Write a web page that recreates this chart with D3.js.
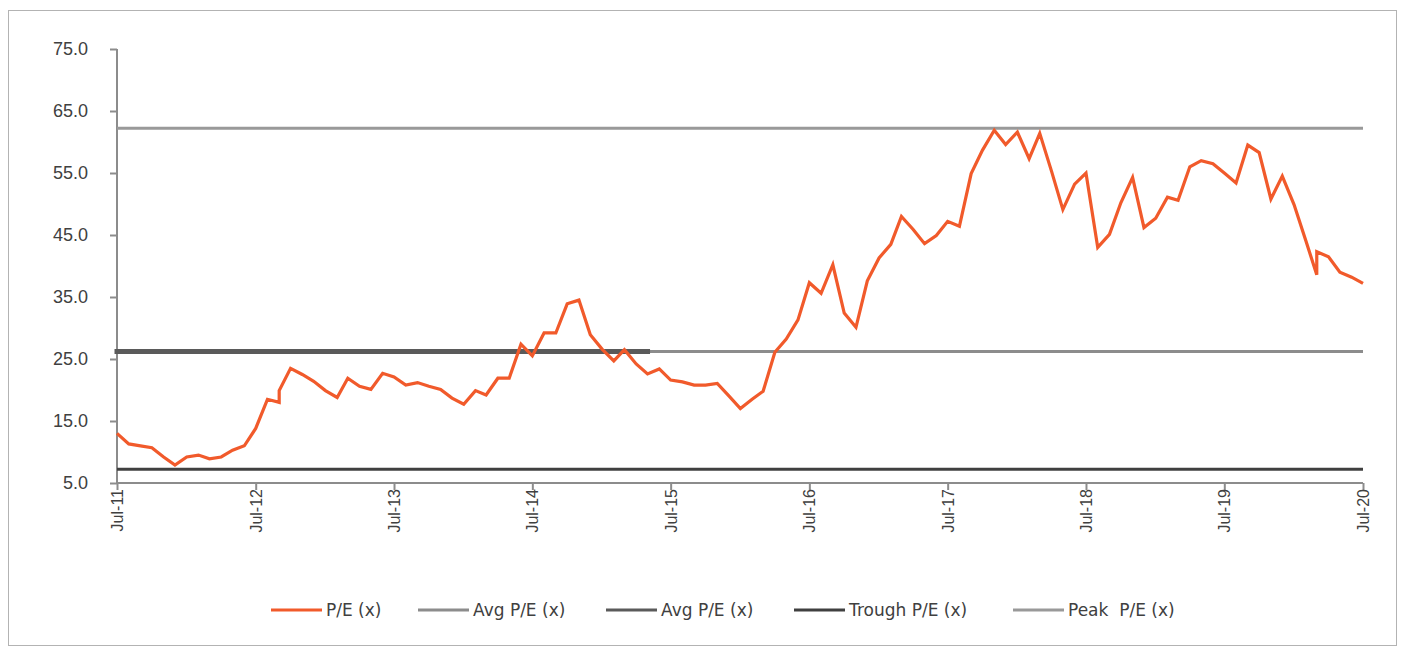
<!DOCTYPE html>
<html>
<head>
<meta charset="utf-8">
<script src="https://cdn.jsdelivr.net/npm/d3@7"></script>
<style>
  html, body { margin: 0; padding: 0; background: #fff; }
  svg { display: block; font-family: "DejaVu Sans", Verdana, sans-serif; }
</style>
</head>
<body>
<svg id="chart" width="1405" height="655"></svg>
<script>
// ---------- DATA ----------
const peMonths = [
  "2011-07","2011-08","2011-09","2011-10","2011-11","2011-12",
  "2012-01","2012-02","2012-03","2012-04","2012-05","2012-06",
  "2012-07","2012-08","2012-09","2012-09","2012-10","2012-11","2012-12",
  "2013-01","2013-02","2013-03","2013-04","2013-05","2013-06",
  "2013-07","2013-08","2013-09","2013-10","2013-11","2013-12",
  "2014-01","2014-02","2014-03","2014-04","2014-05","2014-06",
  "2014-07","2014-08","2014-09","2014-10","2014-11","2014-12",
  "2015-01","2015-02","2015-03","2015-04","2015-05","2015-06",
  "2015-07","2015-08","2015-09","2015-10","2015-11","2015-12",
  "2016-01","2016-02","2016-03","2016-04","2016-05","2016-06",
  "2016-07","2016-08","2016-09","2016-10","2016-11","2016-12",
  "2017-01","2017-02","2017-03","2017-04","2017-05","2017-06",
  "2017-07","2017-08","2017-09","2017-10","2017-11","2017-12",
  "2018-01","2018-02","2018-03","2018-04","2018-05","2018-06",
  "2018-07","2018-08","2018-09","2018-10","2018-11","2018-12",
  "2019-01","2019-02","2019-03","2019-04","2019-05","2019-06",
  "2019-07","2019-08","2019-09","2019-10","2019-11","2019-12",
  "2020-01","2020-02","2020-03","2020-03","2020-04","2020-05","2020-06",
  "2020-07"
];
const peValues = [
  13.0, 11.3, 11.0, 10.7, 9.2, 7.9,
  9.2, 9.5, 8.9, 9.2, 10.3, 11.0,
  13.8, 18.5, 18.0, 19.9, 23.5, 22.5, 21.4,
  19.9, 18.8, 21.9, 20.6, 20.1, 22.7,
  22.1, 20.8, 21.2, 20.6, 20.1, 18.7,
  17.7, 19.9, 19.2, 21.9, 21.9, 27.4,
  25.5, 29.2, 29.2, 33.9, 34.5, 28.9,
  26.6, 24.7, 26.5, 24.2, 22.6, 23.4,
  21.6, 21.3, 20.8, 20.8, 21.05, 19.1,
  17.0, 18.5, 19.8, 26.1, 28.2, 31.3,
  37.3, 35.6, 40.2, 32.4, 30.1, 37.6,
  41.3, 43.5, 48.0, 45.9, 43.6, 44.9,
  47.2, 46.4, 54.9, 58.7, 61.9, 59.6,
  61.6, 57.3, 61.4, 55.3, 49.1, 53.2,
  55.0, 43.0, 45.1, 50.2, 54.3, 46.2,
  47.7, 51.1, 50.6, 56.0, 57.0, 56.5,
  55.0, 53.4, 59.5, 58.3, 50.8, 54.5,
  49.9, 44.1, 38.6, 42.3, 41.5, 39.0, 38.2,
  37.2
];
const avgPE = 26.2;              // Avg P/E (x) – full period
const avgPEShortEnd = "2015-05"; // Avg P/E (x) – dark line ends here
const troughPE = 7.2;
const peakPE = 62.2;
const yTicks = [5, 15, 25, 35, 45, 55, 65, 75];
const xTickMonths = ["2011-07","2012-07","2013-07","2014-07","2015-07","2016-07","2017-07","2018-07","2019-07","2020-07"];
const legendLabels = ["P/E (x)", "Avg P/E (x)", "Avg P/E (x)", "Trough P/E (x)", "Peak  P/E (x)"];

// ---------- SETUP ----------
const parse = d3.timeParse("%Y-%m");
const fmtX = d3.timeFormat("%b-%y");
const svg = d3.select("#chart");

const colors = {
  pe: "#f15a2b",
  avg: "#8c8c8c",
  avgDark: "#5a5a5a",
  trough: "#404040",
  peak: "#999999"
};

// outer border
svg.append("rect")
  .attr("x", 8.5).attr("y", 10.5)
  .attr("width", 1388).attr("height", 635)
  .attr("fill", "none").attr("stroke", "#b3b3b3").attr("stroke-width", 1);

const x = d3.scaleTime()
  .domain([parse("2011-07"), parse("2020-07")])
  .range([117, 1363]);
const y = d3.scaleLinear()
  .domain([5, 75])
  .range([483, 49]);

const peData = peMonths.map((m, i) => ({ date: parse(m), value: peValues[i] }));
const x0 = x.domain()[0], x1 = x.domain()[1];

// ---------- AXES ----------
const yAxis = d3.axisLeft(y).tickValues(yTicks).tickFormat(d3.format(".1f")).tickSize(7).tickPadding(22);
const gy = svg.append("g").attr("transform", "translate(117,0)").call(yAxis);
gy.select(".domain").attr("stroke", "#8c8c8c").attr("stroke-width", 2)
  .attr("d", `M0,${y(75)}V${y(5)}`);
gy.selectAll(".tick line").attr("stroke", "#8c8c8c").attr("stroke-width", 2);
gy.selectAll(".tick text").attr("fill", "#404040").style("font-size", "18px");

const xAxis = d3.axisBottom(x).tickValues(xTickMonths.map(parse)).tickFormat(fmtX).tickSize(7);
const gx = svg.append("g").attr("transform", `translate(0,${y(5)})`).call(xAxis);
gx.select(".domain").attr("stroke", "#8c8c8c").attr("stroke-width", 2)
  .attr("d", `M${x(x0)},0H${x(x1)}`);
gx.selectAll(".tick line").attr("stroke", "#8c8c8c").attr("stroke-width", 2);
gx.selectAll(".tick text")
  .attr("fill", "#404040").style("font-size", "16px")
  .attr("text-anchor", "end")
  .attr("transform", "rotate(-90)")
  .attr("x", -6).attr("y", 0).attr("dy", "0.35em");

// ---------- REFERENCE LINES ----------
function hline(v, from, to, color, w, cap) {
  svg.append("line")
    .attr("x1", x(from)).attr("x2", x(to))
    .attr("y1", y(v)).attr("y2", y(v))
    .attr("stroke", color).attr("stroke-width", w)
    .attr("stroke-linecap", cap || "butt");
}
hline(peakPE, x0, x1, colors.peak, 3);
hline(troughPE, x0, x1, colors.trough, 3);
hline(avgPE, x0, x1, colors.avg, 3);
hline(avgPE, x0, parse(avgPEShortEnd), colors.avgDark, 5, "square");

// ---------- P/E LINE ----------
const line = d3.line().x(d => x(d.date)).y(d => y(d.value));
svg.append("path")
  .datum(peData)
  .attr("d", line)
  .attr("fill", "none")
  .attr("stroke", colors.pe)
  .attr("stroke-width", 3.2)
  .attr("stroke-linejoin", "miter");

// ---------- LEGEND ----------
const legendX = [271, 418, 606, 794, 1013];
const legendColors = [colors.pe, colors.avg, colors.avgDark, colors.trough, colors.peak];
const lg = svg.append("g").attr("transform", "translate(0,610)");
legendLabels.forEach((lab, i) => {
  lg.append("line")
    .attr("x1", legendX[i]).attr("x2", legendX[i] + 51)
    .attr("y1", 0).attr("y2", 0)
    .attr("stroke", legendColors[i]).attr("stroke-width", 3);
  lg.append("text")
    .attr("x", legendX[i] + 55).attr("y", 0).attr("dy", "0.35em")
    .attr("fill", "#404040")
    .style("font-size", "17px")
    .style("white-space", "pre")
    .text(lab);
});
</script>
</body>
</html>
